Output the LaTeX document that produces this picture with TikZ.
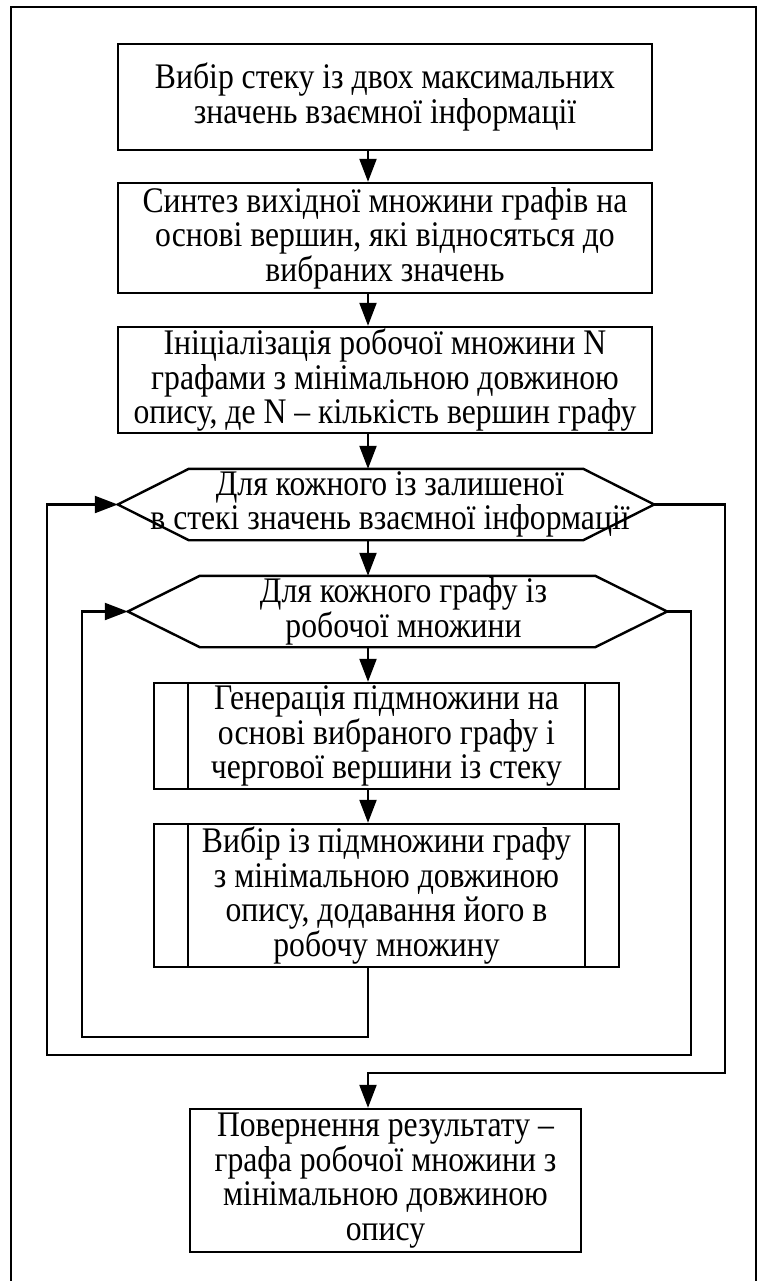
\documentclass[tikz,border=0pt]{standalone}
\usepackage{fontspec}
\setmainfont{Liberation Serif}[FakeStretch=0.88]
\usetikzlibrary{arrows.meta,calc}
\begin{document}
\begin{tikzpicture}[x=1pt,y=-1pt,
  txt/.style={inner sep=0pt,align=center,font=\fontsize{36pt}{34.5pt}\selectfont},
  box/.style={txt,draw,line width=2.4pt},
  hexnode/.style={txt},
  hexline/.style={line width=2.4pt,line join=miter},
  flow/.style={line width=2.2pt},
  arr/.style={flow,-{Triangle[length=23pt,width=17pt]}},
  framestyle/.style={line width=1.2pt}]
\useasboundingbox (0,0) rectangle (763,1281);

% open outer frame
\draw[framestyle] (11,1290) -- (11,7) -- (756,7) -- (756,1290);

% main column of connectors
\coordinate (ax) at (368,0);

% blocks
\node[box,minimum width=534pt,minimum height=106pt] (b1) at (385,97)
  {Вибір стеку із двох максимальних\\значень взаємної інформації};
\node[box,minimum width=534pt,minimum height=110pt] (b2) at (385,238)
  {Синтез вихідної множини графів на\\основі вершин, які відносяться до\\вибраних значень};
\node[box,minimum width=534pt,minimum height=106pt] (b3) at (385,380)
  {Ініціалізація робочої множини N\\графами з мінімальною довжиною\\опису, де N – кількість вершин графу};

% loop headers (hexagons)
\node[hexnode,minimum width=536pt,minimum height=71pt] (h1) at (386,504.5) {};
\draw[hexline] (h1.west) -- ($(h1.north west)+(71,0)$) -- ($(h1.north east)+(-71,0)$)
  -- (h1.east) -- ($(h1.south east)+(-71,0)$) -- ($(h1.south west)+(71,0)$) -- cycle;
\node[txt] at ($(h1.center)+(4,0)$) {Для кожного із залишеної\\в стекі значень взаємної інформації};

\node[hexnode,minimum width=539pt,minimum height=71pt] (h2) at (397.5,611.5) {};
\draw[hexline] (h2.west) -- ($(h2.north west)+(72,0)$) -- ($(h2.north east)+(-72,0)$)
  -- (h2.east) -- ($(h2.south east)+(-72,0)$) -- ($(h2.south west)+(72,0)$) -- cycle;
\node[txt] at ($(h2.center)+(6,0)$) {Для кожного графу із\\робочої множини};

% predefined-process blocks
\node[box,minimum width=465pt,minimum height=106pt] (g) at (386.5,736)
  {Генерація підмножини на\\основі вибраного графу і\\чергової вершини із стеку};
\draw[line width=2.4pt] ($(g.north west)+(35,0)$) -- ($(g.south west)+(35,0)$)
  ($(g.north east)+(-35,0)$) -- ($(g.south east)+(-35,0)$);

\node[box,minimum width=465pt,minimum height=143pt] (v) at (386.5,895.5)
  {Вибір із підмножини графу\\з мінімальною довжиною\\опису, додавання його в\\робочу множину};
\draw[line width=2.4pt] ($(v.north west)+(35,0)$) -- ($(v.south west)+(35,0)$)
  ($(v.north east)+(-35,0)$) -- ($(v.south east)+(-35,0)$);

% result
\node[box,minimum width=391pt,minimum height=143pt] (f) at (385.5,1180.5)
  {Повернення результату –\\графа робочої множини з\\мінімальною довжиною\\опису};

% straight connectors
\draw[arr] (b1.south -| ax) -- (b2.north -| ax);
\draw[arr] (b2.south -| ax) -- (b3.north -| ax);
\draw[arr] (b3.south -| ax) -- (h1.north -| ax);
\draw[arr] (h1.south -| ax) -- (h2.north -| ax);
\draw[arr] (h2.south -| ax) -- (g.north -| ax);
\draw[arr] (g.south -| ax) -- (v.north -| ax);

% inner loop back edge
\coordinate (il1) at (368,1037);
\coordinate (il2) at (82,1037);
\draw[arr] (v.south -| ax) -- (il1) -- (il2) |- (h2.west);

% outer loop back edge
\coordinate (ol1) at (691,1055);
\coordinate (ol2) at (47,1055);
\draw[arr] (h2.east) -| (ol1) -- (ol2) |- (h1.west);

% loop exit
\coordinate (ex1) at (725,1073);
\coordinate (ex2) at (368,1073);
\draw[arr] (h1.east) -| (ex1) -- (ex2) -- (f.north -| ax);
\end{tikzpicture}
\end{document}
